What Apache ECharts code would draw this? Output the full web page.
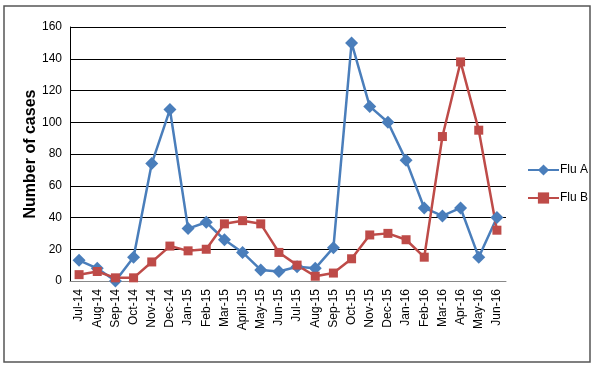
<!DOCTYPE html>
<html><head><meta charset="utf-8">
<script src="https://cdn.jsdelivr.net/npm/echarts@6/dist/echarts.min.js"></script>
<style>html,body{margin:0;padding:0;background:#fff}#c{width:600px;height:370px}</style>
</head><body><div id="c"></div>
<script>
const categories = ['Jul-14','Aug-14','Sep-14','Oct-14','Nov-14','Dec-14','Jan-15','Feb-15','Mar-15','April-15','May-15','Jun-15','Jul-15','Aug-15','Sep-15','Oct-15','Nov-15','Dec-15','Jan-16','Feb-16','Mar-16','Apr-16','May-16','Jun-16'];
const fluA = [13,8,0,15,74,108,33,37,26,18,7,6,9,8,21,150,110,100,76,46,41,46,15,40];
const fluB = [4,6,2,2,12,22,19,20,36,38,36,18,10,3,5,14,29,30,26,15,91,138,95,32];
const yTicks = [0,20,40,60,80,100,120,140,160];

const chart = echarts.init(document.getElementById('c'));
const font = 'Liberation Sans, Arial, sans-serif';
chart.setOption({
  animation: false,
  backgroundColor: '#fff',
  graphic: [{type:'rect', shape:{x:4,y:6,width:586,height:356}, style:{fill:'none', stroke:'#555', lineWidth:1.5}, silent:true}],
  grid: {left:70, right:94, top:27, bottom:89},
  legend: {
    orient:'vertical', left:522, top:159, itemGap:16, itemWidth:31, itemHeight:14,
    textStyle:{fontFamily:font, fontSize:12, color:'#000', padding:[0,0,0,-4]},
    data:['Flu A','Flu B']
  },
  xAxis: {
    type:'category', data:categories, boundaryGap:true,
    axisLine:{lineStyle:{color:'#888', width:1}},
    axisTick:{show:false},
    axisLabel:{rotate:90, interval:0, fontFamily:font, fontSize:12, color:'#000', margin:8}
  },
  yAxis: {
    type:'value', min:yTicks[0], max:yTicks[yTicks.length-1], interval:20,
    name:'Number of cases', nameLocation:'middle', nameGap:31, nameMoveOverlap:false,
    nameTextStyle:{fontFamily:font, fontSize:16, fontWeight:'bold', color:'#000'},
    axisLine:{show:true, lineStyle:{color:'#000', width:1}},
    axisTick:{show:false},
    axisLabel:{fontFamily:font, fontSize:12, color:'#000', margin:8},
    splitLine:{lineStyle:{color:'#000', width:1.2}}
  },
  series: [
    {name:'Flu A', type:'line', data:fluA, symbol:'diamond', symbolSize:13,
     itemStyle:{color:'#4A7EBB'}, lineStyle:{color:'#4A7EBB', width:2.5}},
    {name:'Flu B', type:'line', data:fluB, symbol:'rect', symbolSize:9,
     itemStyle:{color:'#BE4B48'}, lineStyle:{color:'#BE4B48', width:2.5}}
  ]
});
</script></body></html>
